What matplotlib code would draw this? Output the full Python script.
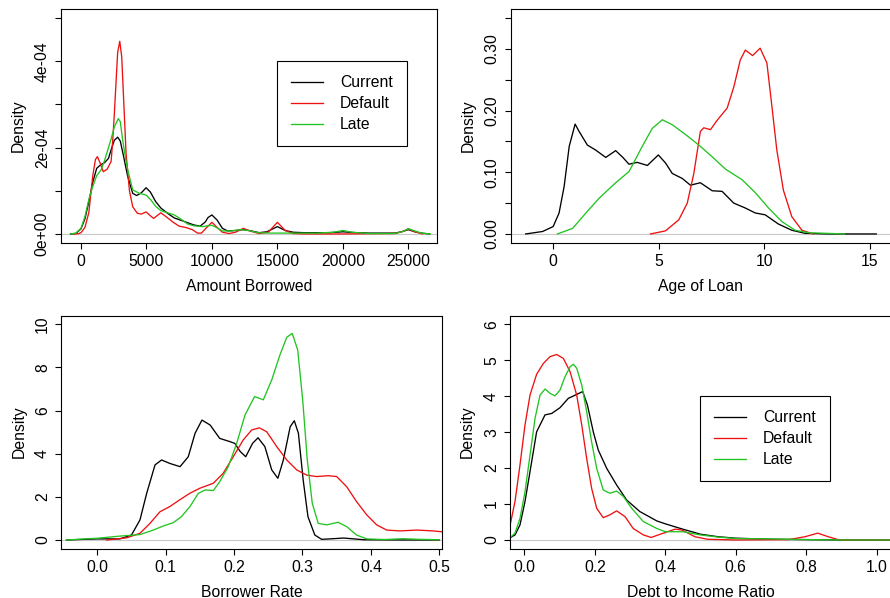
import matplotlib
matplotlib.use("Agg")
import matplotlib.pyplot as plt

plt.rcParams["font.family"] = ["Liberation Sans", "DejaVu Sans"]
plt.rcParams["font.size"] = 11.3

LABELS = ["Current", "Default", "Late"]
COLORS = ["black", "#ee1111", "#22c422"]

# Amount Borrowed (density in units of 1e-4)
amt_cur_x = [-800, -400, 0, 300, 600, 900, 1200, 1500, 1800, 2100, 2300, 2550, 2800, 3000,
             3200, 3570, 3950, 4250, 4600, 4970, 5300, 5700, 6100, 6600, 7130, 7600, 8150,
             8600, 9100, 9500, 9700, 10000, 10400, 10800, 11200, 11800, 12400, 13000, 13600,
             14200, 15000, 15600, 16200, 17000, 18000, 19000, 20000, 21000, 22000, 23000,
             24000, 24600, 25000, 25500, 26000, 26600]
amt_cur_y = [0.0, 0.01, 0.12, 0.35, 0.75, 1.2, 1.52, 1.6, 1.65, 1.75, 1.95, 2.17, 2.24, 2.15,
             1.87, 1.33, 0.94, 0.89, 0.95, 1.07, 0.97, 0.75, 0.6, 0.48, 0.37, 0.32, 0.26,
             0.21, 0.18, 0.28, 0.38, 0.44, 0.32, 0.13, 0.07, 0.08, 0.1, 0.07, 0.03,
             0.05, 0.17, 0.08, 0.04, 0.03, 0.03, 0.03, 0.05, 0.03, 0.02, 0.02,
             0.02, 0.06, 0.1, 0.05, 0.02, 0.0]
amt_def_x = [-600, -200, 0, 300, 600, 900, 1100, 1250, 1450, 1700, 2000, 2300, 2420, 2550,
             2700, 2800, 2960, 3110, 3200, 3440, 3700, 3950, 4300, 4600, 4970, 5300, 5550,
             5800, 6100, 6500, 7000, 7500, 8000, 8500, 8900, 9200, 9600, 10000, 10400, 10800,
             11300, 11800, 12400, 13000, 13600, 14300, 15000, 15600, 16200, 17000, 20000,
             24000, 24600, 25000, 25500, 26100]
amt_def_y = [0.0, 0.005, 0.03, 0.15, 0.5, 1.35, 1.72, 1.79, 1.65, 1.44, 1.5, 1.68, 2.15, 2.8,
             3.65, 4.2, 4.46, 4.1, 3.5, 1.87, 1.0, 0.63, 0.48, 0.46, 0.51, 0.42, 0.36,
             0.42, 0.49, 0.4, 0.28, 0.18, 0.15, 0.1, 0.02, 0.02, 0.15, 0.27, 0.15, 0.04,
             0.01, 0.04, 0.13, 0.06, 0.01, 0.04, 0.27, 0.08, 0.01, 0.0, 0.0,
             0.01, 0.06, 0.12, 0.05, 0.0]
amt_late_x = [-800, -400, 0, 300, 600, 900, 1200, 1530, 1800, 2040, 2300, 2550, 2850, 3000,
              3185, 3400, 3570, 3950, 4460, 4970, 5300, 5700, 6100, 6600, 7130, 7600, 8150,
              8600, 8920, 9300, 9700, 10000, 10400, 10800, 11500, 12200, 12800, 13500, 14500,
              16000, 18000, 19300, 20000, 20700, 22000, 24000, 24600, 25000, 25500, 26000, 26700]
amt_late_y = [0.0, 0.02, 0.13, 0.4, 0.8, 1.1, 1.35, 1.48, 1.7, 1.94, 2.2, 2.48, 2.67, 2.6,
              2.17, 1.75, 1.48, 1.02, 0.94, 0.9, 0.8, 0.64, 0.54, 0.49, 0.44, 0.35, 0.23,
              0.19, 0.18, 0.17, 0.19, 0.2, 0.14, 0.07, 0.07, 0.1, 0.08, 0.03, 0.02,
              0.02, 0.02, 0.04, 0.08, 0.04, 0.01, 0.01, 0.06, 0.12, 0.07, 0.02, 0.0]

# Age of Loan
age_cur_x = [-1.3, -0.5, 0.0, 0.28, 0.52, 0.76, 1.04, 1.23, 1.62, 2.01, 2.49, 2.96, 3.3, 3.59,
             3.98, 4.46, 4.98, 5.32, 5.64, 6.11, 6.5, 6.97, 7.53, 8.0, 8.55, 9.1, 9.57, 10.04,
             10.67, 11.3, 11.93, 13.0, 14.0, 15.3]
age_cur_y = [0.0, 0.004, 0.012, 0.034, 0.077, 0.142, 0.178, 0.166, 0.144, 0.136, 0.124, 0.135,
             0.124, 0.113, 0.116, 0.111, 0.128, 0.115, 0.098, 0.090, 0.079, 0.083, 0.070,
             0.069, 0.050, 0.042, 0.034, 0.031, 0.016, 0.006, 0.001, 0.0, 0.0, 0.0]
age_def_x = [4.61, 5.32, 5.95, 6.35, 6.66, 6.97, 7.13, 7.45, 7.76, 8.24, 8.56, 8.86, 9.1, 9.44,
             9.8, 10.12, 10.36, 10.59, 10.9, 11.3, 11.78, 12.32]
age_def_y = [0.0, 0.005, 0.023, 0.05, 0.098, 0.166, 0.172, 0.169, 0.184, 0.204, 0.239, 0.282,
             0.298, 0.289, 0.301, 0.277, 0.206, 0.136, 0.071, 0.028, 0.006, 0.0]
age_late_x = [0.2, 0.92, 1.55, 2.18, 2.96, 3.59, 4.22, 4.69, 5.17, 5.64, 6.27, 6.9, 7.53, 8.16,
              8.94, 9.57, 10.2, 10.83, 11.46, 12.1, 13.8]
age_late_y = [0.0, 0.009, 0.034, 0.058, 0.083, 0.101, 0.142, 0.171, 0.185, 0.177, 0.161, 0.144,
              0.125, 0.105, 0.088, 0.067, 0.042, 0.020, 0.006, 0.002, 0.0]

# Borrower Rate
rate_cur_x = [-0.045, 0.0, 0.033, 0.05, 0.0624, 0.0722, 0.0844, 0.094, 0.106, 0.121, 0.133,
              0.143, 0.153, 0.165, 0.179, 0.194, 0.201, 0.209, 0.217, 0.227, 0.235, 0.245,
              0.255, 0.264, 0.272, 0.282, 0.288, 0.294, 0.301, 0.308, 0.318, 0.328, 0.34,
              0.36, 0.375, 0.39, 0.45, 0.5]
rate_cur_y = [0.0, 0.05, 0.05, 0.23, 0.93, 2.16, 3.48, 3.71, 3.55, 3.4, 3.86, 4.95, 5.56, 5.33,
              4.71, 4.56, 4.48, 4.1, 3.86, 4.48, 4.74, 4.33, 3.25, 2.86, 3.71, 5.25, 5.53,
              4.95, 2.78, 1.08, 0.23, 0.03, 0.05, 0.09, 0.05, 0.01, 0.0, 0.0]
rate_def_x = [0.0137, 0.043, 0.0624, 0.077, 0.0917, 0.106, 0.12, 0.135, 0.15, 0.1696, 0.184,
              0.1988, 0.2134, 0.2257, 0.2368, 0.2477, 0.2623, 0.277, 0.2915, 0.306, 0.3207,
              0.3377, 0.35, 0.3646, 0.379, 0.394, 0.4085, 0.423, 0.4425, 0.467, 0.491, 0.52]
rate_def_y = [0.0, 0.1, 0.31, 0.77, 1.31, 1.55, 1.85, 2.16, 2.4, 2.63, 3.09, 3.86, 4.64, 5.1,
              5.2, 5.02, 4.33, 3.71, 3.25, 3.01, 2.94, 2.98, 2.94, 2.47, 1.78, 1.16, 0.7,
              0.46, 0.42, 0.46, 0.42, 0.33]
rate_late_x = [-0.045, 0.0, 0.033, 0.0624, 0.082, 0.0965, 0.111, 0.123, 0.1355, 0.1477, 0.1575,
               0.1696, 0.179, 0.1915, 0.2038, 0.216, 0.23, 0.2427, 0.255, 0.267, 0.277, 0.285,
               0.293, 0.3003, 0.307, 0.3143, 0.323, 0.3354, 0.352, 0.3646, 0.379, 0.394, 0.42,
               0.447, 0.47, 0.5]
rate_late_y = [0.0, 0.08, 0.18, 0.25, 0.46, 0.65, 0.8, 1.08, 1.55, 2.16, 2.32, 2.29, 2.7, 3.4,
               4.48, 5.8, 6.65, 6.5, 7.42, 8.58, 9.4, 9.58, 8.81, 6.49, 3.71, 1.7, 0.77, 0.7,
               0.82, 0.62, 0.23, 0.05, 0.02, 0.06, 0.03, 0.01]

# Debt to Income Ratio
dti_cur_x = [-0.05, -0.0406, -0.0264, -0.0122, 0.002, 0.0162, 0.035, 0.0588, 0.0777, 0.1013,
             0.1249, 0.1487, 0.1657, 0.179, 0.196, 0.21, 0.234, 0.262, 0.2906, 0.328, 0.376,
             0.4, 0.45, 0.5, 0.55, 0.6, 0.7, 0.8, 0.9, 1.04]
dti_cur_y = [0.03, 0.06, 0.14, 0.42, 1.07, 1.9, 3.01, 3.48, 3.52, 3.68, 3.94, 4.05, 4.13, 3.76,
             3.0, 2.5, 1.99, 1.53, 1.11, 0.79, 0.53, 0.45, 0.3, 0.16, 0.09, 0.05, 0.02, 0.01,
             0.0, 0.0]
dti_def_x = [-0.05, -0.0406, -0.0264, -0.0122, 0.002, 0.0162, 0.035, 0.054, 0.073, 0.092, 0.111,
             0.13, 0.1487, 0.163, 0.177, 0.191, 0.2055, 0.224, 0.243, 0.262, 0.2858, 0.309,
             0.338, 0.36, 0.38, 0.4277, 0.4466, 0.4844, 0.52, 0.6, 0.75, 0.7965, 0.8325,
             0.8627, 0.89, 0.92, 1.04]
dti_def_y = [0.2, 0.4, 1.07, 2.09, 3.2, 4.03, 4.61, 4.91, 5.1, 5.16, 5.05, 4.68, 4.03, 3.2, 2.27,
             1.44, 0.88, 0.62, 0.7, 0.81, 0.65, 0.32, 0.14, 0.07, 0.14, 0.3, 0.28, 0.09, 0.02,
             0.0, 0.01, 0.09, 0.19, 0.09, 0.01, 0.0, 0.0]
dti_late_x = [-0.05, -0.0406, -0.0264, -0.0122, 0.002, 0.0162, 0.0304, 0.0446, 0.0588, 0.073,
              0.087, 0.1013, 0.1155, 0.13, 0.139, 0.1487, 0.163, 0.177, 0.191, 0.2055, 0.224,
              0.243, 0.262, 0.281, 0.305, 0.338, 0.376, 0.4, 0.45, 0.5, 0.55, 0.6, 0.7, 0.8,
              0.9, 1.04]
dti_late_y = [0.03, 0.06, 0.19, 0.6, 1.34, 2.36, 3.38, 4.03, 4.2, 4.08, 4.01, 4.17, 4.54, 4.82,
              4.89, 4.78, 4.31, 3.57, 2.73, 1.99, 1.39, 1.3, 1.36, 1.21, 0.88, 0.51, 0.32,
              0.23, 0.23, 0.14, 0.08, 0.04, 0.03, 0.01, 0.0, 0.0]

W, H = 890, 598


def make_axes(fig, left, top, right, bottom):
    # pixel box -> figure fraction
    return fig.add_axes([left / W, 1 - bottom / H, (right - left) / W, (bottom - top) / H])


def style_axes(ax, xlabel, width_px):
    ax.axhline(0, color="#c8c8c8", lw=0.8, zorder=0)
    for sp in ax.spines.values():
        sp.set_linewidth(0.8)
    ax.tick_params(direction="out", length=4.3, width=0.8, pad=3.8)
    ax.tick_params(axis="y", labelrotation=90)
    for lab in ax.get_yticklabels():
        lab.set_verticalalignment("center")
    ax.set_xlabel(xlabel)
    ax.set_ylabel("Density")
    ax.xaxis.set_label_coords(0.5, -36.0 / 233.0)
    ax.yaxis.set_label_coords(-35.0 / width_px, 0.5)


def draw_lines(ax, series):
    for (x, y), lab, col in zip(series, LABELS, COLORS):
        ax.plot(x, y, color=col, lw=0.95, label=lab)


def add_legend(ax, x0, y0):
    leg = ax.legend(loc="upper left", bbox_to_anchor=(x0, y0), borderaxespad=0,
                    fancybox=False, framealpha=1, edgecolor="black", handlelength=2.05,
                    handletextpad=1.05, borderpad=0.9, labelspacing=0.38)
    leg.get_frame().set_linewidth(0.8)


def main():
    fig = plt.figure(figsize=(W / 100, H / 100), dpi=100)

    # Amount Borrowed
    ax = make_axes(fig, 61, 9.3, 437.3, 242.6)
    scale = 1e-4
    draw_lines(ax, [(amt_cur_x, [v * scale for v in amt_cur_y]),
                    (amt_def_x, [v * scale for v in amt_def_y]),
                    (amt_late_x, [v * scale for v in amt_late_y])])
    ax.set_xlim(-1528, 27215)
    ax.set_ylim(-0.2e-4, 5.2e-4)
    ax.set_xticks([0, 5000, 10000, 15000, 20000, 25000])
    ax.set_yticks([0, 1e-4, 2e-4, 3e-4, 4e-4, 5e-4])
    ax.set_yticklabels(["0e+00", "", "2e-04", "", "4e-04", ""])
    style_axes(ax, "Amount Borrowed", 376.3)
    add_legend(ax, 0.574, 0.778)

    # Age of Loan
    ax = make_axes(fig, 510.5, 9.3, 891.5, 242.6)
    draw_lines(ax, [(age_cur_x, age_cur_y), (age_def_x, age_def_y), (age_late_x, age_late_y)])
    ax.set_xlim(-2.02, 16.02)
    ax.set_ylim(-0.014, 0.364)
    ax.set_xticks([0, 5, 10, 15])
    ax.set_yticks([0, 0.05, 0.10, 0.15, 0.20, 0.25, 0.30, 0.35])
    ax.set_yticklabels(["0.00", "", "0.10", "", "0.20", "", "0.30", ""])
    style_axes(ax, "Age of Loan", 381.0)

    # Borrower Rate
    ax = make_axes(fig, 61.3, 315.7, 441.7, 548.6)
    draw_lines(ax, [(rate_cur_x, rate_cur_y), (rate_def_x, rate_def_y),
                    (rate_late_x, rate_late_y)])
    ax.set_xlim(-0.0526, 0.5035)
    ax.set_ylim(-0.4, 10.4)
    ax.set_xticks([0.0, 0.1, 0.2, 0.3, 0.4, 0.5])
    ax.set_xticklabels(["0.0", "0.1", "0.2", "0.3", "0.4", "0.5"])
    ax.set_yticks([0, 2, 4, 6, 8, 10])
    style_axes(ax, "Borrower Rate", 380.4)

    # Debt to Income Ratio
    ax = make_axes(fig, 510.2, 315.7, 890.8, 548.6)
    draw_lines(ax, [(dti_cur_x, dti_cur_y), (dti_def_x, dti_def_y), (dti_late_x, dti_late_y)])
    ax.set_xlim(-0.04, 1.04)
    ax.set_ylim(-0.24, 6.24)
    ax.set_xticks([0.0, 0.2, 0.4, 0.6, 0.8, 1.0])
    ax.set_xticklabels(["0.0", "0.2", "0.4", "0.6", "0.8", "1.0"])
    ax.set_yticks([0, 1, 2, 3, 4, 5, 6])
    style_axes(ax, "Debt to Income Ratio", 380.6)
    add_legend(ax, 0.4987, 0.655)

    fig.savefig("out.png", dpi=100)
    plt.close(fig)


if __name__ == "__main__":
    main()
